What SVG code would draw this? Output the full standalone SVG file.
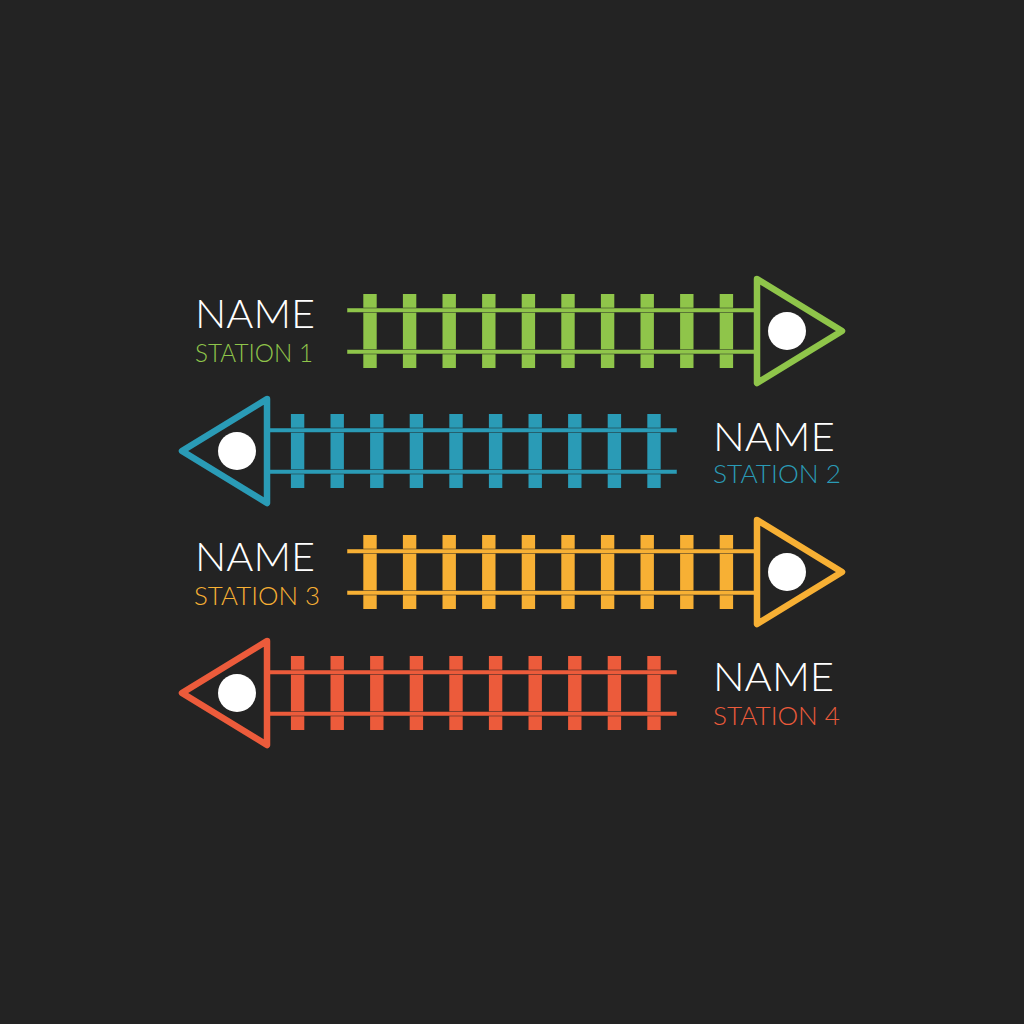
<svg xmlns="http://www.w3.org/2000/svg" xmlns:xlink="http://www.w3.org/1999/xlink" width="1024" height="1024" viewBox="0 0 1024 1024">
<style>
.name{font-family:Lato,"Open Sans","Liberation Sans",sans-serif;font-weight:300;font-size:40px;fill:#ffffff}
.st{font-family:Lato,"Open Sans","Liberation Sans",sans-serif;font-weight:300;font-size:25px}
.rail{fill:currentColor}
.tri{fill:none;stroke:currentColor;stroke-width:6.5;stroke-linejoin:round}
.dot{fill:#ffffff}
</style>
<defs>
<g id="arrow">
<rect class="rail" x="363.3" y="-37" width="13.4" height="74"/>
<rect class="rail" x="402.9" y="-37" width="13.4" height="74"/>
<rect class="rail" x="442.5" y="-37" width="13.4" height="74"/>
<rect class="rail" x="482.1" y="-37" width="13.4" height="74"/>
<rect class="rail" x="521.7" y="-37" width="13.4" height="74"/>
<rect class="rail" x="561.3" y="-37" width="13.4" height="74"/>
<rect class="rail" x="600.9" y="-37" width="13.4" height="74"/>
<rect class="rail" x="640.5" y="-37" width="13.4" height="74"/>
<rect class="rail" x="680.1" y="-37" width="13.4" height="74"/>
<rect class="rail" x="719.7" y="-37" width="13.4" height="74"/>
<rect class="rail" x="347" y="-23" width="410" height="4.5" stroke="#232323" stroke-width="0.8" stroke-opacity="0.6"/>
<rect class="rail" x="347" y="18.5" width="410" height="4.5" stroke="#232323" stroke-width="0.8" stroke-opacity="0.6"/>
<path class="tri" d="M757,-52 L842,0 L757,52 Z"/>
<circle class="dot" cx="787" cy="0" r="19"/>
</g>
</defs>
<rect width="1024" height="1024" fill="#232323"/>
<g id="connectors"/>
<g id="station1" style="color:#8fc54a">
<use xlink:href="#arrow" href="#arrow" transform="translate(0,331)"/>
<text class="name" x="195" y="328" textLength="120" lengthAdjust="spacingAndGlyphs">NAME</text>
<text class="st" x="195" y="362" fill="#8fc54a" textLength="118" lengthAdjust="spacingAndGlyphs">STATION 1</text>
</g>
<g id="station2" style="color:#2a9bb6">
<use xlink:href="#arrow" href="#arrow" transform="translate(1024,451) scale(-1,1)"/>
<text class="name" x="713" y="451" textLength="122" lengthAdjust="spacingAndGlyphs">NAME</text>
<text class="st" x="713" y="483" fill="#2a9bb6" textLength="128" lengthAdjust="spacingAndGlyphs">STATION 2</text>
</g>
<g id="station3" style="color:#f7b034">
<use xlink:href="#arrow" href="#arrow" transform="translate(0,572)"/>
<text class="name" x="195" y="571" textLength="120" lengthAdjust="spacingAndGlyphs">NAME</text>
<text class="st" x="194" y="605" fill="#f7b034" textLength="126" lengthAdjust="spacingAndGlyphs">STATION 3</text>
</g>
<g id="station4" style="color:#ec5b3b">
<use xlink:href="#arrow" href="#arrow" transform="translate(1024,693) scale(-1,1)"/>
<text class="name" x="713" y="691" textLength="121" lengthAdjust="spacingAndGlyphs">NAME</text>
<text class="st" x="713" y="725" fill="#ec5b3b" textLength="127" lengthAdjust="spacingAndGlyphs">STATION 4</text>
</g>
</svg>
